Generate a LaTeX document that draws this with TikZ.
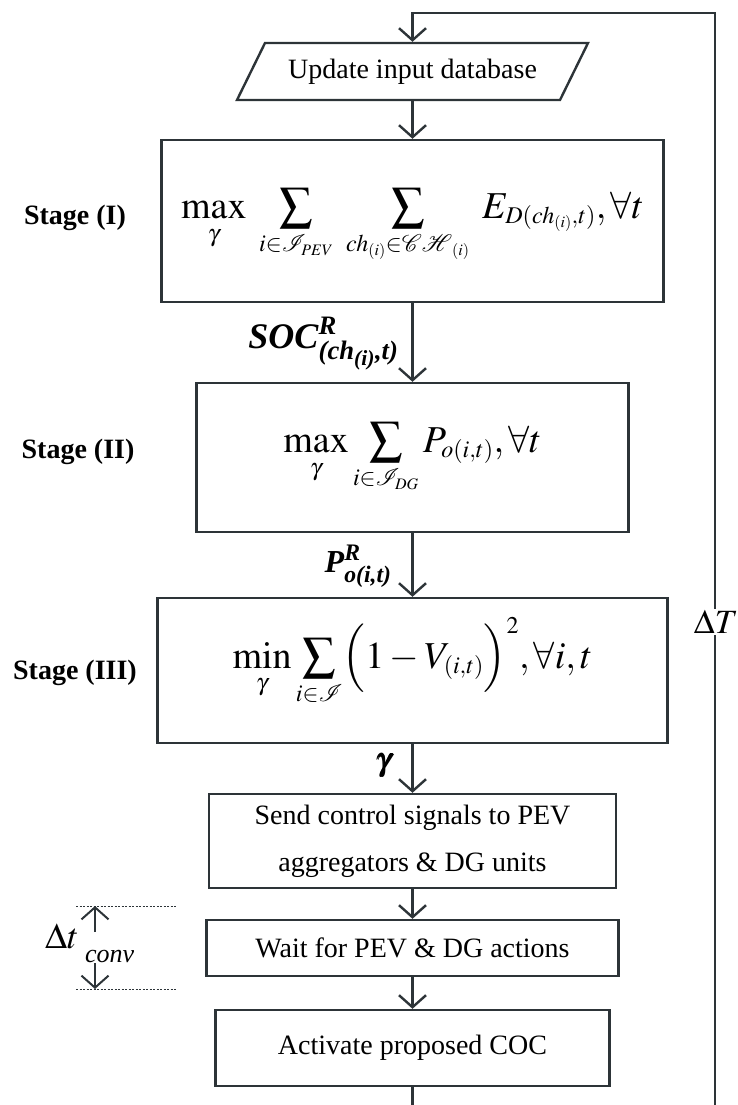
\documentclass[tikz,border=0pt]{standalone}
\usepackage{amsmath}
\usepackage{mathptmx}
\usepackage{fontspec}
\setmainfont{Liberation Serif}
\usetikzlibrary{arrows.meta}

\DeclareMathSizes{38}{38}{24}{16}
\definecolor{ink}{RGB}{45,52,56}
\newcommand\bfit[1]{\textbf{\textit{#1}}}
\newcommand\fs[1]{\fontsize{#1}{#1}\selectfont}
% slightly reduced summation sign
\newcommand\bsum{\mathop{\vcenter{\hbox{\scalebox{0.86}{$\displaystyle\sum$}}}}\limits}
% formula whose baseline sits a given distance above the node centre
\newcommand\formula[2]{\raisebox{#1}[0pt][0pt]{\fs{38}$\displaystyle #2$}}

\begin{document}
\begin{tikzpicture}[x=1pt,y=-1pt,
  line width=2.4pt,
  arr/.style={draw=ink,-{Straight Barb[length=12pt,width=27pt]}},
  conn/.style={draw=ink},
  box/.style={draw=ink,rectangle,inner sep=0pt,align=center,font=\fs{28}},
  stagelbl/.style={font=\fs{28}\bfseries},
  flowlbl/.style={font=\fs{32}},
  guide/.style={draw=ink,line width=0.9pt,dash pattern=on 2pt off 1.5pt}]

\useasboundingbox (0,0) rectangle (737,1105);

% input block (parallelogram drawn round an invisible node)
\node[inner sep=0pt,minimum width=323pt,minimum height=57pt,font=\fs{28}]
  (upd) at (412.5,71.5) {Update input database};
\draw[ink] (265,43) -- (588,43) -- (560,100) -- (237,100) -- cycle;

% optimisation stages
\node[box,minimum width=502pt,minimum height=162pt] (s1) at (412.5,221)
  {\formula{3pt}{\max_{\gamma}\;\bsum_{i\in\mathcal{I}_{PEV}}\;\bsum_{ch_{(i)}\in\mathcal{CH}_{(i)}}\;E_{D(ch_{(i)},t)},\forall t}};
\node[box,minimum width=432pt,minimum height=149pt] (s2) at (412.5,457.5)
  {\formula{5.5pt}{\max_{\gamma}\bsum_{i\in\mathcal{I}_{DG}} P_{o(i,t)},\forall t}};
\node[box,minimum width=510pt,minimum height=145pt] (s3) at (412.5,670.5)
  {\formula{2.5pt}{\min_{\gamma}\bsum_{i\in\mathcal{I}}\Bigl(1-V_{(i,t)}\Bigr)^{2},\forall i,t}};

% action blocks
\node[box,minimum width=407pt,minimum height=94pt,font=\fontsize{28}{47}\selectfont]
  (send) at (412.5,841) {Send control signals to PEV\\aggregators \& DG units};
\node[box,minimum width=412pt,minimum height=56pt] (wait) at (412.5,948)
  {Wait for PEV \& DG actions};
\node[box,minimum width=394pt,minimum height=76pt] (act) at (412.5,1048)
  {Activate proposed COC};

% stage captions
\node[stagelbl] (l1) at (75,218) {Stage (I)};
\node[stagelbl] (l2) at (78,452) {Stage (II)};
\node[stagelbl] (l3) at (75,673) {Stage (III)};

% main flow
\draw[arr] (upd.south) -- (s1.north);
\draw[arr] (s1.south) -- (s2.north);
\draw[arr] (s2.south) -- (s3.north);
\draw[arr] (s3.south) -- (send.north);
\draw[arr] (send.south) -- (wait.north);
\draw[arr] (wait.south) -- (act.north);

% data passed between stages
\node[font=\fs{36},anchor=east] (socl) at (403,344)
  {$\bfit{SOC}^{\bfit{R}}_{\bfit{(ch}_{\bfit{(i)}}\bfit{,t)}}$};
\node[flowlbl,anchor=east] (pl) at (396,566)
  {$\bfit{P}^{\bfit{R}}_{\bfit{o(i,t)}}$};
\node[flowlbl] (gl) at (384,766) {$\pmb{\gamma}$};

% update loop
\coordinate (bl) at (412.5,1105);
\coordinate (br) at (715,1105);
\coordinate (tr) at (715,13);
\coordinate (tl) at (412.5,13);
\draw[conn] (act.south) -- (bl);
\draw[arr,line join=miter] (br) -- (tr) -- (tl) -- (upd.north);
\node[fill=white,inner sep=1pt,font=\fs{34}] (dT) at (716,622) {$\Delta T$};

% convergence time marker
\coordinate (g1a) at (76,906);  \coordinate (g1b) at (176,906);
\coordinate (g2a) at (76,989);  \coordinate (g2b) at (176,989);
\coordinate (ua) at (95,932);   \coordinate (ub) at (95,906);
\coordinate (da) at (95,963);   \coordinate (db) at (95,989);
\draw[guide] (g1a) -- (g1b);
\draw[guide] (g2a) -- (g2b);
\draw[arr,line width=2pt] (ua) -- (ub);
\draw[arr,line width=2pt] (da) -- (db);
\node[anchor=base west,inner sep=0pt,font=\fs{36}] (dtl) at (44,948) {$\Delta t$};
\node[anchor=base west,inner sep=0pt,font=\fs{26}\itshape] (cvl) at (84,962) {conv};

\end{tikzpicture}
\end{document}
